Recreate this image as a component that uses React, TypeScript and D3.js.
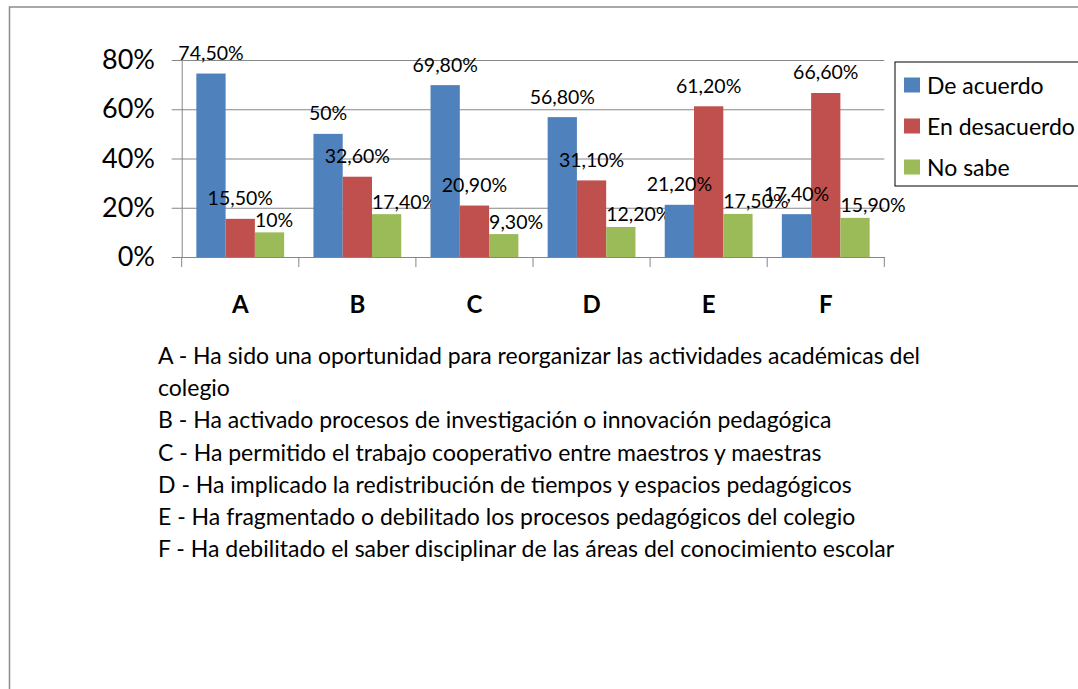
import React, { useRef, useEffect } from "react";
import * as d3 from "d3";

const categories = ["A", "B", "C", "D", "E", "F"];
const seriesNames = ["De acuerdo", "En desacuerdo", "No sabe"];
const deAcuerdo = [74.5, 50, 69.8, 56.8, 21.2, 17.4];
const enDesacuerdo = [15.5, 32.6, 20.9, 31.1, 61.2, 66.6];
const noSabe = [10, 17.4, 9.3, 12.2, 17.5, 15.9];
const yTicks = [0, 20, 40, 60, 80];
const descriptions = [
  ["A - Ha sido una oportunidad para reorganizar las actividades académicas del", "colegio"],
  ["B - Ha activado procesos de investigación o innovación pedagógica"],
  ["C - Ha permitido el trabajo cooperativo entre maestros y maestras"],
  ["D - Ha implicado la redistribución de tiempos y espacios pedagógicos"],
  ["E - Ha fragmentado o debilitado los procesos pedagógicos del colegio"],
  ["F - Ha debilitado el saber disciplinar de las áreas del conocimiento escolar"],
];

const colors = ["#4F81BD", "#C0504D", "#9BBB59"];
const FONT = "Lato, 'Open Sans', sans-serif";

const fmt = (v: number) =>
  Number.isInteger(v) ? `${v}%` : `${v.toFixed(2).replace(".", ",")}%`;

const App = () => {
  const svgRef = useRef<SVGSVGElement>(null);
  const width = 1078;
  const height = 689;

  useEffect(() => {
    const svg = d3.select(svgRef.current);
    svg.selectAll("*").remove();

    const left = 181.7, right = 884.3, top = 60, bottom = 257;
    const rows = categories.map((c, i) => ({
      cat: c,
      values: [deAcuerdo[i], enDesacuerdo[i], noSabe[i]],
    }));

    const x = d3.scaleBand().domain(categories).range([left, right]).padding(0);
    const x1 = d3.scaleBand().domain(seriesNames).range([0, x.bandwidth()])
      .paddingInner(0).paddingOuter(0.5);
    const y = d3.scaleLinear().domain([0, 80]).range([bottom, top]);

    // outer frame
    svg.append("rect")
      .attr("x", 9.5).attr("y", 7)
      .attr("width", 1200).attr("height", 800)
      .attr("fill", "none").attr("stroke", "#8c8c8c").attr("stroke-width", 1.5);

    // gridlines + y ticks
    const yAxis = d3.axisLeft(y).tickValues(yTicks)
      .tickSize(-(right - left)).tickSizeOuter(0)
      .tickFormat((d) => `${d}%`);
    const gy = svg.append("g").attr("transform", `translate(${left},0)`).call(yAxis);
    gy.select(".domain").attr("stroke", "#868686");
    gy.selectAll(".tick line").attr("stroke", "#868686").attr("x2", right - left).attr("x1", -10);
    gy.selectAll(".tick text")
      .attr("fill", "#000").attr("font-size", 27).attr("font-family", FONT)
      .attr("x", -26.7);

    // x axis
    const xAxis = d3.axisBottom(x).tickSize(0).tickSizeOuter(0);
    const gx = svg.append("g").attr("transform", `translate(0,${bottom})`).call(xAxis);
    gx.select(".domain").attr("stroke", "#868686");
    gx.selectAll(".tick text")
      .attr("fill", "#000").attr("font-size", 24).attr("font-weight", "bold")
      .attr("font-family", FONT).attr("dy", "0.35em").attr("y", 48);
    const bounds = categories.map((c) => x(c) as number).concat([right]);
    gx.selectAll("line.sep").data(bounds).enter().append("line")
      .attr("class", "sep")
      .attr("x1", (d) => d).attr("x2", (d) => d)
      .attr("y1", 0).attr("y2", 10)
      .attr("stroke", "#868686");

    // bars
    const groups = svg.append("g").selectAll("g").data(rows).enter().append("g")
      .attr("transform", (d) => `translate(${x(d.cat)},0)`);
    groups.selectAll("rect")
      .data((d) => d.values.map((v, i) => ({ v, s: seriesNames[i], i })))
      .enter().append("rect")
      .attr("x", (d) => x1(d.s) as number)
      .attr("y", (d) => y(d.v))
      .attr("width", x1.bandwidth())
      .attr("height", (d) => bottom - y(d.v))
      .attr("fill", (d) => colors[d.i]);

    // value labels (green series sits left-aligned on its bar, a little lower)
    groups.selectAll("text")
      .data((d) => d.values.map((v, i) => ({ v, s: seriesNames[i], i })))
      .enter().append("text")
      .attr("x", (d) => (d.i === 2 ? (x1(d.s) as number) : (x1(d.s) as number) + x1.bandwidth() / 2))
      .attr("y", (d) => y(d.v) - (d.i === 2 ? 13 : 21))
      .attr("text-anchor", (d) => (d.i === 2 ? "start" : "middle"))
      .attr("dominant-baseline", "central")
      .attr("font-size", 19.5).attr("font-family", FONT).attr("fill", "#000")
      .text((d) => fmt(d.v));

    // legend
    const lg = svg.append("g");
    lg.append("rect")
      .attr("x", 895).attr("y", 62).attr("width", 300).attr("height", 124)
      .attr("fill", "#fff").attr("stroke", "#000").attr("stroke-width", 1);
    seriesNames.forEach((s, i) => {
      const cy = 85 + i * 41;
      lg.append("rect").attr("x", 904).attr("y", cy - 7.5)
        .attr("width", 16).attr("height", 15).attr("fill", colors[i]);
      lg.append("text").attr("x", 927).attr("y", cy)
        .attr("dominant-baseline", "central")
        .attr("font-size", 23).attr("font-family", FONT).attr("fill", "#000")
        .text(s);
    });

    // descriptions
    const lines = descriptions.flat();
    svg.append("g").selectAll("text").data(lines).enter().append("text")
      .attr("x", 158)
      .attr("y", (d, i) => 364 + i * 32.2)
      .attr("font-size", 23).attr("font-family", FONT).attr("fill", "#000")
      .text((d) => d);
  }, []);

  return (
    <div>
      <svg
        ref={svgRef}
        width={width}
        height={height}
        style={{ position: "absolute", left: 0, top: 0, background: "#fff" }}
      ></svg>
    </div>
  );
};

export default App;
